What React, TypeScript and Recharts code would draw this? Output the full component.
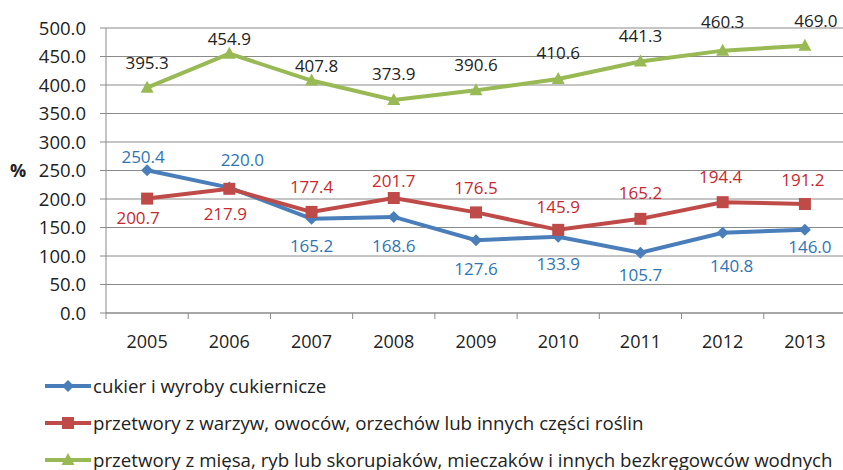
import React from 'react';
import { LineChart, Line, XAxis, YAxis, CartesianGrid, Legend } from 'recharts';

const years = ['2005', '2006', '2007', '2008', '2009', '2010', '2011', '2012', '2013'];
const sugar = [250.4, 220.0, 165.2, 168.6, 127.6, 133.9, 105.7, 140.8, 146.0];
const veg = [200.7, 217.9, 177.4, 201.7, 176.5, 145.9, 165.2, 194.4, 191.2];
const meat = [395.3, 454.9, 407.8, 373.9, 390.6, 410.6, 441.3, 460.3, 469.0];
const yTicks = [0, 50, 100, 150, 200, 250, 300, 350, 400, 450, 500];
const seriesNames = [
  'cukier i wyroby cukiernicze',
  'przetwory z warzyw, owoców, orzechów lub innych części roślin',
  'przetwory z mięsa, ryb lub skorupiaków, mieczaków i innych bezkręgowców wodnych',
];

const data = years.map((y, i) => ({ year: y, sugar: sugar[i], veg: veg[i], meat: meat[i] }));

// label placement (style only): offsets of each data label from its point
const sugarDx = [-4, 13, 0, 0, 0, 0, 0, 9, 5];
const sugarDy = [-14, -28, 27, 29, 28, 27, 22, 33, 17];
const vegDx = [-9, -4, 0, 0, 0, 0, 0, -2, -2];
const vegDy = [19, 25, -25, -18, -25, -23, -26, -26, -25];
const meatDx = [0, 0, 5, 0, 0, 0, 0, 0, 11];
const meatDy = [-25, -15, -15, -26, -26, -26, -26, -29, -25];

const FONT = '"Open Sans", sans-serif';
const BLUE = '#4A7EBB';
const RED = '#BE4B48';
const GREEN = '#98B954';
const GRID = '#8A8A8A';
const TEXT = '#222222';

const CHART_W = 846;
const Y_AXIS_W = 106;
const STEP = (CHART_W - Y_AXIS_W) / years.length;

const makeLabel = (dxs: number[], dys: number[], color: string) => (props: any) => {
  const { x, y, value, index } = props;
  return (
    <text
      x={x + dxs[index]}
      y={y + dys[index]}
      textAnchor="middle"
      dominantBaseline="central"
      fill={color}
      fontSize={17}
      fontFamily={FONT}
    >
      {Number(value).toFixed(1)}
    </text>
  );
};

const YearTick = (props: any) => {
  const { x, y, payload, index } = props;
  const half = STEP / 2;
  return (
    <g>
      <line x1={x - half} y1={y} x2={x - half} y2={y + 6} stroke={GRID} strokeWidth={1} />
      {index === years.length - 1 ? (
        <line x1={x + half} y1={y} x2={x + half} y2={y + 6} stroke={GRID} strokeWidth={1} />
      ) : null}
      <text x={x} y={y + 28} textAnchor="middle" dominantBaseline="central" fill={TEXT} fontSize={18} fontFamily={FONT}>
        {payload.value}
      </text>
    </g>
  );
};

const Diamond = (props: any) => {
  const { cx, cy, fill } = props;
  if (cx == null || cy == null) return null;
  const r = 6;
  return <path d={`M${cx},${cy - r}L${cx + r},${cy}L${cx},${cy + r}L${cx - r},${cy}Z`} fill={fill} />;
};
const Square = (props: any) => {
  const { cx, cy, fill } = props;
  if (cx == null || cy == null) return null;
  const r = 6;
  return <rect x={cx - r} y={cy - r} width={2 * r} height={2 * r} fill={fill} />;
};
const Triangle = (props: any) => {
  const { cx, cy, fill } = props;
  if (cx == null || cy == null) return null;
  return <path d={`M${cx},${cy - 7}L${cx + 6.5},${cy + 5}L${cx - 6.5},${cy + 5}Z`} fill={fill} />;
};

const markerShapes = [
  (c: string) => <path d="M23,1L29,7L23,13L17,7Z" fill={c} />,
  (c: string) => <rect x={17} y={1} width={12} height={12} fill={c} />,
  (c: string) => <path d="M23,0L29.5,12L16.5,12Z" fill={c} />,
];
const legendColors = [BLUE, RED, GREEN];

const LegendContent = () => (
  <div style={{ height: 110, paddingTop: 7, paddingLeft: 45, boxSizing: 'border-box', fontFamily: FONT }}>
    {seriesNames.map((n, i) => (
      <div key={n} style={{ height: 37, display: 'flex', alignItems: 'center' }}>
        <svg width={46} height={14} style={{ display: 'block' }}>
          <line x1={0} y1={7} x2={46} y2={7} stroke={legendColors[i]} strokeWidth={4} />
          {markerShapes[i](legendColors[i])}
        </svg>
        <span style={{ marginLeft: 2, fontSize: 18.7, lineHeight: '22px', color: TEXT, whiteSpace: 'nowrap' }}>{n}</span>
      </div>
    ))}
  </div>
);

export default function App() {
  return (
    <div style={{ position: 'absolute', left: 0, top: 0, width: 843, height: 470, overflow: 'hidden', background: '#fff' }}>
      <LineChart width={CHART_W} height={470} data={data} margin={{ top: 28, right: 0, bottom: 0, left: 0 }}>
        <CartesianGrid vertical={false} stroke={GRID} strokeWidth={1} />
        <XAxis
          dataKey="year"
          type="category"
          interval={0}
          height={47}
          padding={{ left: STEP / 2, right: STEP / 2 }}
          axisLine={{ stroke: GRID, strokeWidth: 1 }}
          tickLine={false}
          tickSize={0}
          tickMargin={0}
          tick={<YearTick />}
        />
        <YAxis
          width={Y_AXIS_W}
          domain={[0, 500]}
          ticks={yTicks}
          interval={0}
          tickFormatter={(v: number) => v.toFixed(1)}
          axisLine={{ stroke: GRID, strokeWidth: 1 }}
          tickLine={{ stroke: GRID, strokeWidth: 1 }}
          tickSize={6}
          tickMargin={14}
          tick={{ fill: TEXT, fontSize: 18.5, fontFamily: FONT }}
          label={{ value: '%', position: 'insideLeft', offset: 10, fill: TEXT, fontSize: 18, fontWeight: 'bold', fontFamily: FONT }}
        />
        <Legend layout="horizontal" verticalAlign="bottom" align="left" content={<LegendContent />} />
        <Line
          dataKey="sugar"
          name={seriesNames[0]}
          stroke={BLUE}
          strokeWidth={4}
          dot={<Diamond fill={BLUE} />}
          activeDot={false}
          label={makeLabel(sugarDx, sugarDy, '#2E75B6')}
          isAnimationActive={false}
        />
        <Line
          dataKey="veg"
          name={seriesNames[1]}
          stroke={RED}
          strokeWidth={4}
          dot={<Square fill={RED} />}
          activeDot={false}
          label={makeLabel(vegDx, vegDy, '#C8282E')}
          isAnimationActive={false}
        />
        <Line
          dataKey="meat"
          name={seriesNames[2]}
          stroke={GREEN}
          strokeWidth={4}
          dot={<Triangle fill={GREEN} />}
          activeDot={false}
          label={makeLabel(meatDx, meatDy, TEXT)}
          isAnimationActive={false}
        />
      </LineChart>
    </div>
  );
}
